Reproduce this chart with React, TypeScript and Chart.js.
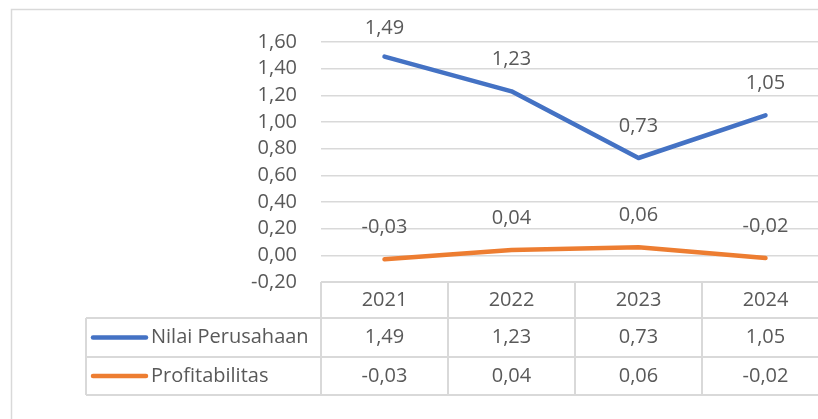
import React, { useEffect, useRef } from "react";
import { Chart, registerables } from "chart.js";

Chart.register(...registerables);

const categories = ["2021", "2022", "2023", "2024"];
const nilaiPerusahaan = [1.49, 1.23, 0.73, 1.05];
const profitabilitas = [-0.03, 0.04, 0.06, -0.02];
const seriesNames = ["Nilai Perusahaan", "Profitabilitas"];
const seriesColors = ["#4472C4", "#ED7D31"];
const yMin = -0.2;
const yMax = 1.6;
const yStep = 0.2;

const FONT = "'Open Sans', sans-serif";
const FONT_SIZE = 20;
const TEXT = "#595959";
const GRID = "#d9d9d9";

const fmt = (v: number) => (Math.round(v * 100) / 100).toFixed(2).replace(".", ",");

const W = 840;
const H = 430;

export default function App() {
  const ref = useRef<HTMLCanvasElement | null>(null);
  useEffect(() => {
    if (!ref.current) return;
    const allSeries = [nilaiPerusahaan, profitabilitas];

    const decor = {
      id: "decor",
      beforeDraw(chart: any) {
        const ctx = chart.ctx;
        ctx.save();
        ctx.fillStyle = "#ffffff";
        ctx.fillRect(0, 0, chart.width, chart.height);
        ctx.strokeStyle = GRID;
        ctx.lineWidth = 1.5;
        ctx.strokeRect(11.5, 9.5, chart.width + 20, chart.height + 20);
        ctx.restore();
      },
      afterDraw(chart: any) {
        const ctx = chart.ctx;
        const xs = chart.scales.x;
        const area = chart.chartArea;
        const n = categories.length;
        const cw = (area.right - area.left) / n;
        const top = area.bottom;
        const rowTops = [top, top + 36, top + 75, top + 113];
        const legendLeft = 86;
        ctx.save();
        ctx.strokeStyle = GRID;
        ctx.lineWidth = 2;
        ctx.beginPath();
        ctx.moveTo(area.left, rowTops[0]);
        ctx.lineTo(area.right, rowTops[0]);
        for (let r = 1; r < rowTops.length; r++) {
          ctx.moveTo(legendLeft, rowTops[r]);
          ctx.lineTo(area.right, rowTops[r]);
        }
        for (let i = 0; i <= n; i++) {
          const x = area.left + i * cw;
          ctx.moveTo(x, rowTops[0]);
          ctx.lineTo(x, rowTops[3]);
        }
        ctx.moveTo(legendLeft, rowTops[1]);
        ctx.lineTo(legendLeft, rowTops[3]);
        ctx.stroke();

        ctx.fillStyle = TEXT;
        ctx.font = `${FONT_SIZE}px ${FONT}`;
        ctx.textAlign = "center";
        ctx.textBaseline = "middle";
        categories.forEach((c, i) => {
          const x = xs.getPixelForValue(i);
          ctx.fillText(c, x, (rowTops[0] + rowTops[1]) / 2);
          allSeries.forEach((s, k) => {
            ctx.fillText(fmt(s[i]), x, (rowTops[k + 1] + rowTops[k + 2]) / 2);
          });
        });
        seriesNames.forEach((name, k) => {
          const y = (rowTops[k + 1] + rowTops[k + 2]) / 2;
          ctx.strokeStyle = seriesColors[k];
          ctx.lineWidth = 4.5;
          ctx.lineCap = "round";
          ctx.beginPath();
          ctx.moveTo(93, y);
          ctx.lineTo(146, y);
          ctx.stroke();
          ctx.fillStyle = TEXT;
          ctx.textAlign = "left";
          ctx.fillText(name, 151, y);
        });

        ctx.textAlign = "center";
        chart.data.datasets.forEach((ds: any, k: number) => {
          const meta = chart.getDatasetMeta(k);
          meta.data.forEach((pt: any, i: number) => {
            const ly = Math.max(pt.y - 32, area.top - 14);
            ctx.fillText(fmt(ds.data[i]), pt.x, ly);
          });
        });
        ctx.restore();
      },
    };

    const chart = new Chart(ref.current, {
      type: "line",
      data: {
        labels: categories,
        datasets: allSeries.map((s, k) => ({
          label: seriesNames[k],
          data: s,
          borderColor: seriesColors[k],
          backgroundColor: seriesColors[k],
          borderWidth: 4.5,
          pointRadius: 0,
          tension: 0,
          borderCapStyle: "round",
          borderJoinStyle: "round",
        })),
      },
      options: {
        animation: false,
        responsive: false,
        layout: { padding: { left: 0, top: 42, right: W - 829, bottom: H - 282 } },
        plugins: { legend: { display: false }, tooltip: { enabled: false } },
        scales: {
          x: { type: "category", display: false, offset: true },
          y: {
            min: yMin,
            max: yMax,
            border: { display: false },
            grid: { color: GRID, lineWidth: 1.5, drawTicks: false },
            ticks: {
              stepSize: yStep,
              autoSkip: false,
              padding: 24,
              color: TEXT,
              font: { family: FONT, size: FONT_SIZE },
              callback: (v: any) => fmt(Number(v)),
            },
            afterFit: (scale: any) => {
              scale.width = 321;
            },
          },
        },
      } as any,
      plugins: [decor],
    });
    return () => chart.destroy();
  }, []);
  return (
    <div style={{ position: "fixed", left: 0, top: 0, width: 818, height: 419, overflow: "hidden", background: "#fff" }}>
      <canvas ref={ref} width={W} height={H} style={{ width: W, height: H, display: "block" }} />
    </div>
  );
}
